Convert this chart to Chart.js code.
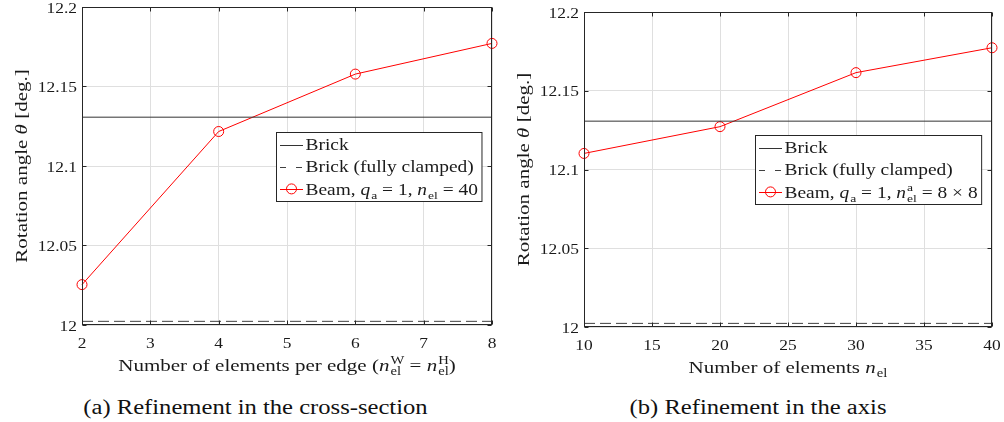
<!DOCTYPE html>
<html>
<head>
<meta charset="utf-8">
<script src="https://cdn.jsdelivr.net/npm/chart.js@4/dist/chart.umd.min.js"></script>
<style>
  body { margin: 0; background: #fff; }
  #wrap { position: relative; width: 1004px; height: 422px; }
  .panel { position: absolute; top: 0; width: 502px; height: 390px; }
  .caption { position: absolute; top: 395px; width: 502px; text-align: center;
             font: 20.5px "Liberation Serif", "Times New Roman", serif; line-height: 24px; color: #111; }
  .caption span { display: inline-block; transform: scaleX(1.2); }
</style>
</head>
<body>
<div id="wrap">
  <div class="panel" style="left:0"><canvas id="chartA"></canvas></div>
  <div class="panel" style="left:502px"><canvas id="chartB"></canvas></div>
  <div class="caption" style="left:4px"><span>(a) Refinement in the cross-section</span></div>
  <div class="caption" style="left:507px"><span>(b) Refinement in the axis</span></div>
</div>
<script>
const FAMILY = '"Liberation Serif", "Times New Roman", serif';
const STRETCH = 1.2;   // wide serif look
const TEXT_COLOR = '#1a1a1a';
const AXIS_COLOR = '#262626';
const GRID_COLOR = '#dfdfdf';

// (a) refinement in the cross-section
const edgeElements = [2, 4, 6, 8];
const edgeRotation = [12.0254, 12.1217, 12.1578, 12.1771];
const edgeTicks = [2, 3, 4, 5, 6, 7, 8];

// (b) refinement along the axis
const axisElements = [10, 20, 30, 40];
const axisRotation = [12.1102, 12.1272, 12.1615, 12.1773];
const axisTicks = [10, 15, 20, 25, 30, 35, 40];

// brick reference solutions
const brickRotation = 12.1307;
const brickClampedRotation = 12.0023;

const rotationTicks = [12, 12.05, 12.1, 12.15, 12.2];

// --- rich text (italic math, sub/superscripts), stretched horizontally ---
function fontStr(size, italic) {
    return (italic ? 'italic ' : '') + size + 'px ' + FAMILY;
}

function textW(ctx, t, size, italic) {
    ctx.font = fontStr(size, italic);
    return ctx.measureText(t).width * STRETCH;
}

function runWidth(ctx, r, size) {
    const w = textW(ctx, r.t, size, r.it);
    let s = 0;
    if (r.sub) s = textW(ctx, r.sub, size * 0.7);
    if (r.sup) s = Math.max(s, textW(ctx, r.sup, size * 0.7));
    return w + (s ? s + 1 : 0);
}

function richWidth(ctx, runs, size) {
    return runs.reduce((a, r) => a + runWidth(ctx, r, size), 0);
}

function putText(ctx, t, x, y, size, italic) {
    ctx.save();
    ctx.font = fontStr(size, italic);
    ctx.translate(x, y);
    ctx.scale(STRETCH, 1);
    ctx.fillText(t, 0, 0);
    ctx.restore();
}

// y is the baseline
function drawRich(ctx, runs, x, y, size, align) {
    const total = richWidth(ctx, runs, size);
    let cx = align === 'center' ? x - total / 2 : align === 'right' ? x - total : x;
    ctx.save();
    ctx.textBaseline = 'alphabetic';
    ctx.textAlign = 'left';
    ctx.fillStyle = TEXT_COLOR;
    runs.forEach(r => {
        putText(ctx, r.t, cx, y, size, r.it);
        const w = textW(ctx, r.t, size, r.it);
        let s = 0;
        if (r.sub) {
            putText(ctx, r.sub, cx + w + 1, y + size * 0.25, size * 0.7);
            s = textW(ctx, r.sub, size * 0.7);
        }
        if (r.sup) {
            putText(ctx, r.sup, cx + w + 1, y - size * 0.4, size * 0.7);
            s = Math.max(s, textW(ctx, r.sup, size * 0.7));
        }
        cx += w + (s ? s + 1 : 0);
    });
    ctx.restore();
}

const yTitle = [{ t: 'Rotation angle ' }, { t: 'θ', it: true }, { t: ' [deg.]' }];

// frame, inner ticks, tick labels, axis titles and legend
function panelPlugin(cfg) {
    return {
        id: 'panel',
        afterDatasetsDraw(chart) {
            const ctx = chart.ctx;
            const a = chart.chartArea;
            const xs = chart.scales.x, ys = chart.scales.y;
            const L = Math.round(a.left) + 0.5, R = Math.round(a.right) - 0.5;
            const T = Math.round(a.top) + 0.5, B = Math.round(a.bottom) - 0.5;

            ctx.save();
            ctx.strokeStyle = AXIS_COLOR;
            ctx.lineWidth = 1;
            ctx.strokeRect(L, T, R - L, B - T);
            ctx.beginPath();
            cfg.ticks.forEach(v => {
                const px = Math.round(xs.getPixelForValue(v)) + 0.5;
                ctx.moveTo(px, B); ctx.lineTo(px, B - 4);
                ctx.moveTo(px, T); ctx.lineTo(px, T + 4);
            });
            rotationTicks.forEach(v => {
                const py = Math.round(ys.getPixelForValue(v)) + 0.5;
                ctx.moveTo(L, py); ctx.lineTo(L + 4, py);
                ctx.moveTo(R, py); ctx.lineTo(R - 4, py);
            });
            ctx.stroke();
            ctx.restore();

            // tick labels
            const tickSize = 14.5;
            cfg.ticks.forEach(v => {
                drawRich(ctx, [{ t: String(v) }], xs.getPixelForValue(v), a.bottom + 23, tickSize, 'center');
            });
            rotationTicks.forEach(v => {
                drawRich(ctx, [{ t: String(v) }], a.left - 5, ys.getPixelForValue(v) + 5.5, tickSize, 'right');
            });

            // legend, 'east' of the axes
            const size = 16.2, rowH = 22.2, sampleLen = 23;
            const tw = Math.max(...cfg.legend.map(l => richWidth(ctx, l.runs, size)));
            const w = 3.5 + sampleLen + 2.5 + tw + 4;
            const h = 69;
            const bx = Math.round(a.right - 10.5 - w) + 0.5;
            const by = Math.round((a.top + a.bottom) / 2 - h / 2) + 0.5;
            ctx.save();
            ctx.fillStyle = '#fff';
            ctx.fillRect(bx, by, w, h);
            ctx.strokeStyle = AXIS_COLOR;
            ctx.lineWidth = 1;
            ctx.strokeRect(bx, by, w, h);
            cfg.legend.forEach((l, i) => {
                const cy = by + 12 + i * rowH;
                const x0 = bx + 3.5, x1 = x0 + sampleLen;
                ctx.strokeStyle = l.color;
                ctx.setLineDash(l.dash || []);
                ctx.beginPath();
                ctx.moveTo(x0, Math.round(cy) + 0.5);
                ctx.lineTo(x1, Math.round(cy) + 0.5);
                ctx.stroke();
                ctx.setLineDash([]);
                if (l.marker) {
                    ctx.beginPath();
                    ctx.arc((x0 + x1) / 2, cy, 5, 0, Math.PI * 2);
                    ctx.stroke();
                }
                drawRich(ctx, l.runs, x1 + 2.5, cy + 5.6, size, 'left');
            });
            ctx.restore();

            // axis titles
            drawRich(ctx, cfg.xTitle, (a.left + a.right) / 2, a.bottom + 45.5, 17.5, 'center');
            ctx.save();
            ctx.translate(21, (a.top + a.bottom) / 2);
            ctx.rotate(-Math.PI / 2);
            drawRich(ctx, yTitle, 0, 6, 17.5, 'center');
            ctx.restore();
        }
    };
}

function makeChart(id, cfg) {
    const xMin = cfg.ticks[0], xMax = cfg.ticks[cfg.ticks.length - 1];
    return new Chart(document.getElementById(id), {
        type: 'line',
        data: {
            datasets: [
                {
                    label: 'Brick',
                    data: [{ x: xMin, y: brickRotation }, { x: xMax, y: brickRotation }],
                    borderColor: '#333333', borderWidth: 1, pointRadius: 0
                },
                {
                    label: 'Brick (fully clamped)',
                    data: [{ x: xMin, y: brickClampedRotation }, { x: xMax, y: brickClampedRotation }],
                    borderColor: '#404040', borderWidth: 1, borderDash: [11, 5], pointRadius: 0
                },
                {
                    label: 'Beam',
                    data: cfg.x.map((v, i) => ({ x: v, y: cfg.y[i] })),
                    borderColor: '#ff0000', borderWidth: 1,
                    pointRadius: 5, pointBorderWidth: 1,
                    pointBorderColor: '#ff0000', pointBackgroundColor: 'rgba(0,0,0,0)',
                    clip: false
                }
            ]
        },
        options: {
            animation: false,
            responsive: true,
            maintainAspectRatio: false,
            layout: { padding: cfg.padding },
            plugins: { legend: { display: false }, tooltip: { enabled: false } },
            scales: {
                x: {
                    type: 'linear', min: xMin, max: xMax,
                    afterBuildTicks: s => { s.ticks = cfg.ticks.map(v => ({ value: v })); },
                    afterFit: s => { s.height = cfg.xAxisHeight; },
                    grid: { color: GRID_COLOR, drawTicks: false },
                    border: { display: false },
                    ticks: { display: false }
                },
                y: {
                    type: 'linear', min: rotationTicks[0], max: rotationTicks[rotationTicks.length - 1],
                    afterBuildTicks: s => { s.ticks = rotationTicks.map(v => ({ value: v })); },
                    afterFit: s => { s.width = 82; },
                    grid: { color: GRID_COLOR, drawTicks: false },
                    border: { display: false },
                    ticks: { display: false }
                }
            }
        },
        plugins: [panelPlugin(cfg)]
    });
}

makeChart('chartA', {
    x: edgeElements, y: edgeRotation, ticks: edgeTicks,
    padding: { top: 7, right: 10, left: 0, bottom: 0 },
    xAxisHeight: 65,
    xTitle: [
        { t: 'Number of elements per edge (' },
        { t: 'n', it: true, sub: 'el', sup: 'W' },
        { t: ' = ' },
        { t: 'n', it: true, sub: 'el', sup: 'H' },
        { t: ')' }
    ],
    legend: [
        { color: '#333333', runs: [{ t: 'Brick' }] },
        { color: '#404040', dash: [6, 10], runs: [{ t: 'Brick (fully clamped)' }] },
        { color: '#ff0000', marker: true, runs: [
            { t: 'Beam, ' }, { t: 'q', it: true, sub: 'a' }, { t: ' = 1, ' },
            { t: 'n', it: true, sub: 'el' }, { t: ' = 40' }
        ] }
    ]
});

makeChart('chartB', {
    x: axisElements, y: axisRotation, ticks: axisTicks,
    padding: { top: 12, right: 12, left: 0, bottom: 0 },
    xAxisHeight: 63,
    xTitle: [{ t: 'Number of elements ' }, { t: 'n', it: true, sub: 'el' }],
    legend: [
        { color: '#333333', runs: [{ t: 'Brick' }] },
        { color: '#404040', dash: [6, 10], runs: [{ t: 'Brick (fully clamped)' }] },
        { color: '#ff0000', marker: true, runs: [
            { t: 'Beam, ' }, { t: 'q', it: true, sub: 'a' }, { t: ' = 1, ' },
            { t: 'n', it: true, sub: 'el', sup: 'a' }, { t: ' = 8 × 8' }
        ] }
    ]
});
</script>
</body>
</html>
